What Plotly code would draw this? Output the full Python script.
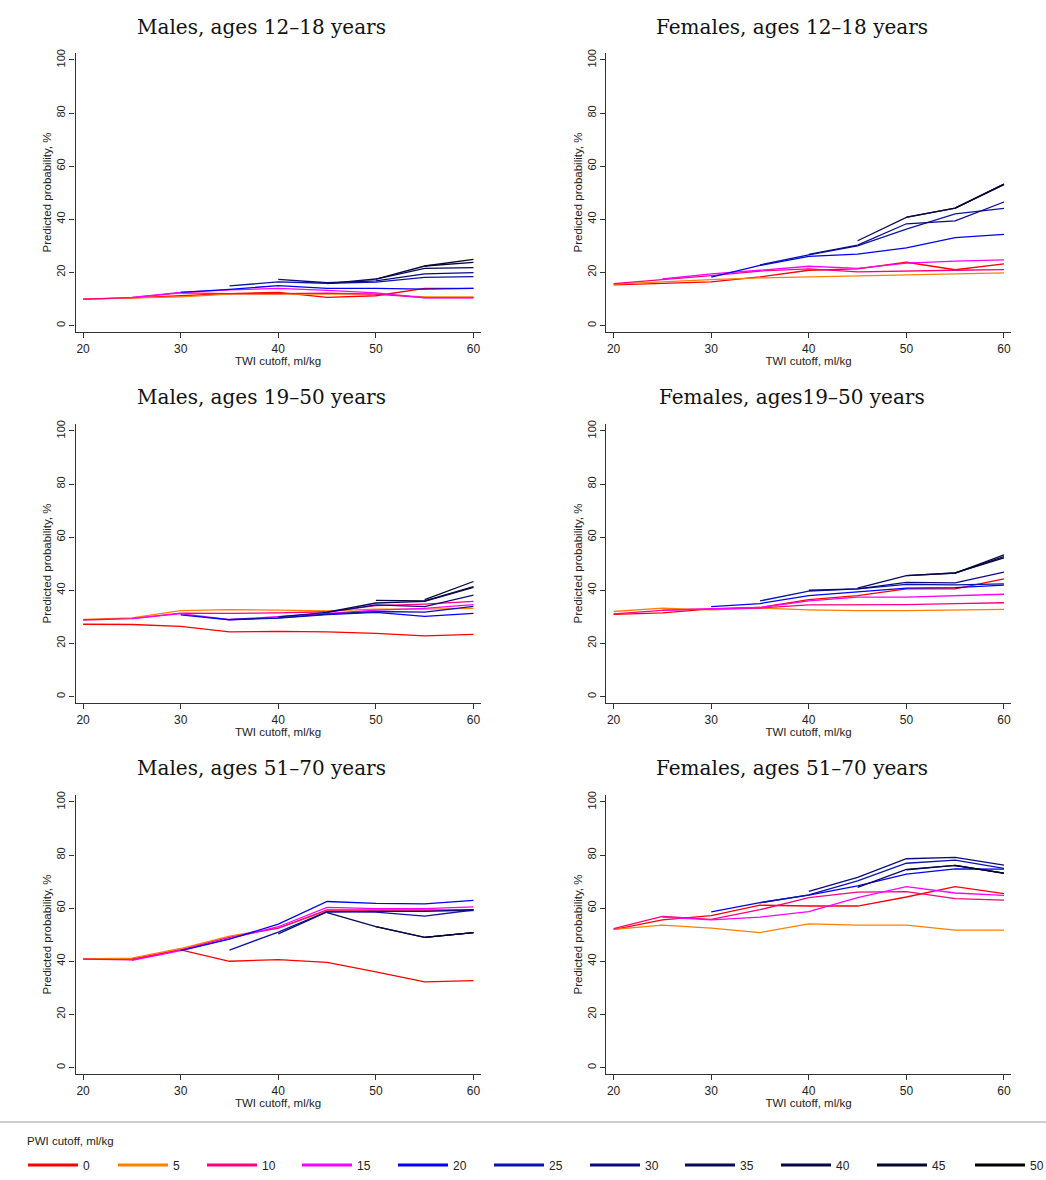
import plotly.graph_objects as go

N = None
twi = [20, 25, 30, 35, 40, 45, 50, 55, 60]
pwi = [0, 5, 10, 15, 20, 25, 30, 35, 40, 45, 50]
colors = ["#FF0000", "#FF8000", "#FF0080", "#FF00FF", "#0000FF", "#0A14A8",
          "#0A0A80", "#0A0A58", "#080840", "#060630", "#000000"]

titles = ["Males, ages 12–18 years", "Females, ages 12–18 years",
          "Males, ages 19–50 years", "Females, ages19–50 years",
          "Males, ages 51–70 years", "Females, ages 51–70 years"]

males_12_18 = [
    [9.9, 10.4, 11.2, 12.0, 12.5, 10.6, 11.2, 14.0, 14.0],
    [9.9, 10.3, 10.8, 11.8, 11.8, 11.8, 11.8, 10.8, 10.8],
    [9.9, 10.5, 12.3, 12.0, 12.0, 12.2, 11.8, 10.5, 10.5],
    [N, 10.6, 12.5, 13.4, 14.0, 13.2, 12.3, 10.4, 10.4],
    [N, N, 12.5, 13.6, 15.0, 14.0, 14.0, 13.7, 14.0],
    [N, N, N, 14.9, 16.4, 15.9, 16.3, 18.1, 18.4],
    [N, N, N, N, 17.4, 16.1, 16.8, 19.4, 19.9],
    [N, N, N, N, N, 15.8, 17.5, 21.5, 21.8],
    [N, N, N, N, N, N, 17.5, 22.4, 23.8],
    [N, N, N, N, N, N, N, 22.4, 24.9],
    [N, N, N, N, N, N, N, N, 24.9],
]
females_12_18 = [
    [15.3, 15.8, 16.4, 18.3, 20.8, 21.3, 23.8, 21.0, 23.2],
    [15.6, 16.5, 17.3, 17.9, 18.3, 18.7, 19.0, 19.4, 19.8],
    [15.8, 17.2, 18.8, 20.5, 21.3, 20.2, 20.6, 20.8, 21.0],
    [N, 17.5, 19.4, 20.8, 22.3, 21.5, 23.5, 24.2, 24.7],
    [N, N, 18.2, 22.6, 26.0, 26.9, 29.2, 33.1, 34.3],
    [N, N, N, 22.8, 26.6, 30.0, 36.3, 42.0, 44.1],
    [N, N, N, N, 26.8, 30.3, 38.3, 39.4, 46.5],
    [N, N, N, N, N, 31.9, 40.7, 44.2, 53.0],
    [N, N, N, N, N, N, 40.8, 44.2, 53.2],
    [N, N, N, N, N, N, N, 44.2, 53.2],
    [N, N, N, N, N, N, N, N, 53.2],
]
males_19_50 = [
    [27.2, 27.1, 26.4, 24.3, 24.5, 24.3, 23.8, 22.8, 23.4],
    [29.0, 29.6, 32.3, 32.7, 32.5, 32.2, 32.9, 32.9, 33.2],
    [28.8, 29.3, 31.4, 31.3, 31.5, 31.9, 34.2, 34.8, 35.8],
    [N, 29.3, 31.2, 28.9, 30.0, 31.3, 32.5, 33.2, 34.6],
    [N, N, 30.7, 28.9, 29.5, 30.8, 31.7, 30.2, 31.3],
    [N, N, N, 29.0, 29.6, 31.0, 32.0, 31.8, 33.9],
    [N, N, N, N, 30.0, 31.7, 34.5, 33.8, 38.2],
    [N, N, N, N, N, 31.8, 35.2, 35.8, 41.1],
    [N, N, N, N, N, N, 36.2, 36.0, 41.4],
    [N, N, N, N, N, N, N, 36.5, 43.3],
    [N, N, N, N, N, N, N, N, 43.3],
]
females_19_50 = [
    [30.9, 31.5, 33.0, 33.5, 36.5, 38.0, 40.5, 40.5, 44.3],
    [32.0, 33.3, 32.6, 33.3, 32.6, 32.3, 32.3, 32.6, 32.8],
    [31.1, 32.4, 33.0, 33.3, 34.5, 34.6, 34.6, 35.0, 35.3],
    [N, 32.5, 33.0, 33.5, 36.0, 37.4, 37.4, 38.0, 38.5],
    [N, N, 33.8, 35.0, 38.0, 39.4, 40.8, 41.0, 41.9],
    [N, N, N, 36.0, 39.7, 40.5, 42.2, 42.0, 42.4],
    [N, N, N, N, 40.0, 40.5, 43.0, 42.8, 46.8],
    [N, N, N, N, N, 40.8, 45.5, 46.5, 52.7],
    [N, N, N, N, N, N, 45.5, 46.5, 53.3],
    [N, N, N, N, N, N, N, 46.5, 52.2],
    [N, N, N, N, N, N, N, N, 53.0],
]
males_51_70 = [
    [40.9, 40.9, 44.3, 40.0, 40.6, 39.6, 36.0, 32.2, 32.7],
    [40.9, 41.2, 44.8, 49.5, 52.5, 59.0, 59.0, 59.0, 59.0],
    [40.8, 40.5, 44.3, 49.0, 52.5, 59.3, 59.3, 59.3, 59.3],
    [N, 40.3, 44.0, 48.5, 53.0, 60.3, 59.8, 59.8, 60.5],
    [N, N, 44.0, 48.3, 54.0, 62.5, 61.8, 61.6, 62.9],
    [N, N, N, 44.2, 51.0, 58.7, 58.5, 57.0, 59.3],
    [N, N, N, N, 50.3, 58.6, 58.8, 58.8, 59.4],
    [N, N, N, N, N, 58.3, 53.0, 49.0, 50.8],
    [N, N, N, N, N, N, 53.0, 49.0, 50.8],
    [N, N, N, N, N, N, N, 49.0, 50.8],
    [N, N, N, N, N, N, N, N, 50.8],
]
females_51_70 = [
    [51.9, 55.6, 57.2, 61.1, 60.8, 60.8, 64.2, 68.1, 65.5],
    [52.0, 53.6, 52.5, 50.8, 54.1, 53.6, 53.6, 51.7, 51.7],
    [52.3, 56.9, 55.8, 59.4, 64.0, 66.0, 66.2, 63.6, 63.0],
    [N, 56.6, 55.6, 56.6, 58.7, 64.0, 68.1, 65.7, 64.8],
    [N, N, 58.6, 62.1, 64.9, 68.4, 72.8, 74.8, 74.7],
    [N, N, N, 62.0, 65.0, 70.3, 76.9, 78.1, 75.0],
    [N, N, N, N, 66.3, 71.6, 78.6, 79.1, 76.2],
    [N, N, N, N, N, 67.8, 74.6, 76.1, 73.2],
    [N, N, N, N, N, N, 74.4, 76.1, 73.2],
    [N, N, N, N, N, N, N, 76.0, 73.1],
    [N, N, N, N, N, N, N, N, 73.1],
]

panels = [males_12_18, females_12_18, males_19_50, females_19_50, males_51_70, females_51_70]

W, H = 1046, 1180
x_px = [(75.5, 480.5), (606, 1011)]
y_px = [(53, 332), (424, 703), (795, 1074)]
title_x = [261, 792]
title_y = [27, 397, 768]
legend_line_x = [28, 118, 207, 302, 398, 494, 590, 685, 781, 877, 975]

SANS = "Liberation Sans, Arial, sans-serif"
SERIF = "DejaVu Serif, serif"

fig = go.Figure()
layout = dict(width=W, height=H, margin=dict(l=0, r=0, t=0, b=0, autoexpand=False),
              paper_bgcolor="white", plot_bgcolor="white", showlegend=True)
annotations = []

for i, data in enumerate(panels):
    r, c = divmod(i, 2)
    k = "" if i == 0 else str(i + 1)
    for j, p in enumerate(pwi):
        xs = [t for t, v in zip(twi, data[j]) if v is not None]
        ys = [v for v in data[j] if v is not None]
        fig.add_trace(go.Scatter(x=xs, y=ys, mode="lines",
                                 line=dict(color=colors[j], width=1.3),
                                 showlegend=False, hoverinfo="skip",
                                 xaxis="x" + k, yaxis="y" + k))
    axcommon = dict(showline=True, linecolor="#333333", linewidth=1.2,
                    ticks="outside", ticklen=5, tickcolor="#333333", tickwidth=1.2,
                    showgrid=False, zeroline=False, automargin=False,
                    tickfont=dict(family=SANS, size=12, color="#222222"))
    layout["xaxis" + k] = dict(axcommon,
        domain=[x_px[c][0] / W, x_px[c][1] / W], range=[19.22, 60.72],
        tickvals=[20, 30, 40, 50, 60], anchor="y" + k,
        title=dict(text="TWI cutoff, ml/kg", standoff=1,
                   font=dict(family=SANS, size=11.5, color="#222222")))
    layout["yaxis" + k] = dict(axcommon,
        domain=[1 - y_px[r][1] / H, 1 - y_px[r][0] / H], range=[-2.45, 102.6],
        tickvals=[0, 20, 40, 60, 80, 100], tickangle=-90, anchor="x" + k,
        tickfont=dict(family=SANS, size=11, color="#222222"),
        title=dict(text="Predicted probability, %", standoff=0,
                   font=dict(family=SANS, size=11.5, color="#222222")))
    annotations.append(dict(text=titles[i], x=title_x[c] / W, y=1 - title_y[r] / H,
                            xref="paper", yref="paper", xanchor="center", yanchor="middle",
                            showarrow=False, font=dict(family=SERIF, size=20, color="#111111")))

annotations.append(dict(text="PWI cutoff, ml/kg", x=25 / W, y=1 - 1141 / H,
                        xref="paper", yref="paper", xanchor="left", yanchor="middle",
                        showarrow=False, font=dict(family=SANS, size=11.5, color="#222222")))

for j, p in enumerate(pwi):
    lname = "legend" if j == 0 else "legend%d" % (j + 1)
    fig.add_trace(go.Scatter(x=[None], y=[None], mode="lines", name=str(p),
                             line=dict(color=colors[j], width=3),
                             showlegend=True, legend=lname, xaxis="x", yaxis="y"))
    layout[lname] = dict(orientation="h", x=(legend_line_x[j] - 5) / W, y=1 - 1165 / H,
                         xanchor="left", yanchor="middle",
                         font=dict(family=SANS, size=12, color="#222222"),
                         itemwidth=50, bgcolor="rgba(0,0,0,0)")

layout["annotations"] = annotations
layout["shapes"] = [dict(type="line", xref="paper", yref="paper", x0=0, x1=1,
                         y0=1 - 1122 / H, y1=1 - 1122 / H,
                         line=dict(color="#CCCCCC", width=2))]
fig.update_layout(**layout)
fig.write_html("out.html")
